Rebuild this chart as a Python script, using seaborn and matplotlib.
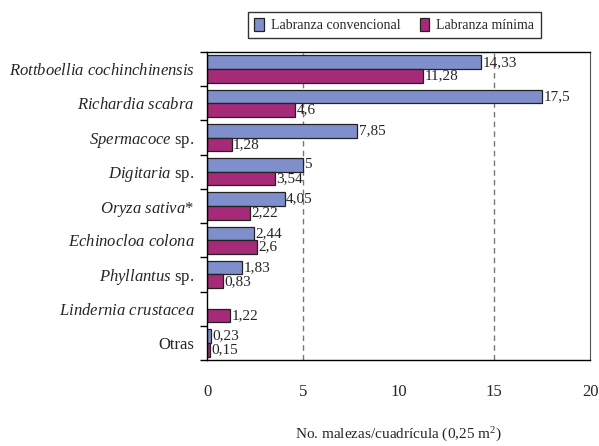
import numpy as np
import pandas as pd
import seaborn as sns
from matplotlib import pyplot as plt

# data
especies = ['Rottboellia cochinchinensis', 'Richardia scabra', 'Spermacoce sp.',
            'Digitaria sp.', 'Oryza sativa*', 'Echinocloa colona',
            'Phyllantus sp.', 'Lindernia crustacea', 'Otras']
etiquetas = [r'$\mathit{Rottboellia}$ $\mathit{cochinchinensis}$',
             r'$\mathit{Richardia}$ $\mathit{scabra}$',
             r'$\mathit{Spermacoce}$ sp.',
             r'$\mathit{Digitaria}$ sp.',
             r'$\mathit{Oryza}$ $\mathit{sativa}$*',
             r'$\mathit{Echinocloa}$ $\mathit{colona}$',
             r'$\mathit{Phyllantus}$ sp.',
             r'$\mathit{Lindernia}$ $\mathit{crustacea}$',
             'Otras']
convencional = [14.33, 17.5, 7.85, 5, 4.05, 2.44, 1.83, np.nan, 0.23]
minima = [11.28, 4.6, 1.28, 3.54, 2.22, 2.6, 0.83, 1.22, 0.15]
sistemas = ['Labranza convencional', 'Labranza mínima']
colores = ['#7f8fcb', '#a52a78']

df = pd.DataFrame({'especie': especies * 2,
                   'valor': convencional + minima,
                   'sistema': [sistemas[0]] * len(especies) + [sistemas[1]] * len(especies)})

sns.set_style('white')
plt.rcParams['font.family'] = ['Liberation Serif', 'DejaVu Serif']
plt.rcParams['mathtext.fontset'] = 'custom'
plt.rcParams['mathtext.rm'] = 'Liberation Serif'
plt.rcParams['mathtext.it'] = 'Liberation Serif:italic'

fig, ax = plt.subplots(figsize=(5.99, 4.46), dpi=100)
fig.subplots_adjust(left=0.3456, right=0.985, top=0.8834, bottom=0.1928)

for x in [5, 15]:
    ax.axvline(x, color='#777777', linestyle=(0, (4, 3)), linewidth=1, zorder=0)

sns.barplot(data=df, y='especie', x='valor', hue='sistema', order=especies,
            hue_order=sistemas, palette=colores, saturation=1, orient='h', width=0.8,
            edgecolor='#222222', linewidth=0.9, ax=ax, zorder=2)

for cont in ax.containers:
    labs = []
    for bar in cont:
        w = bar.get_width()
        labs.append('' if np.isnan(w) or w == 0 else f'{w:g}'.replace('.', ','))
    ax.bar_label(cont, labels=labs, padding=1, fontsize=11)

ax.set_xlim(0, 20)
ax.set_ylim(8.5, -0.5)
ax.set_xticks([0, 5, 10, 15, 20])
ax.set_xticklabels(['0', '5', '10', '15', '20'], fontsize=12)
ax.tick_params(axis='x', length=0, pad=17)
ax.set_yticks(range(len(especies)))
ax.set_yticklabels(etiquetas, fontsize=12)
ax.tick_params(axis='y', which='major', length=0, pad=9)
ax.set_yticks(np.arange(-0.5, len(especies), 1), minor=True)
ax.tick_params(axis='y', which='minor', length=5, width=1, color='black', left=True)
ax.set_xlabel('No. malezas/cuadrícula (0,25 m$^2$)', fontsize=11, labelpad=19)
ax.set_ylabel('')

for s in ['left', 'bottom', 'top']:
    ax.spines[s].set_color('black')
    ax.spines[s].set_linewidth(1)
ax.spines['right'].set_color('#555555')

ax.get_legend().remove()
h, l = ax.get_legend_handles_labels()
fig.legend(h, l, loc='center', bbox_to_anchor=(0.658, 0.944), ncol=2,
           fontsize=10, frameon=True, fancybox=False, edgecolor='black',
           handlelength=0.7, handleheight=1.1, columnspacing=1.4,
           handletextpad=0.5, borderpad=0.45, borderaxespad=0)

plt.savefig('out.png', dpi=100)
